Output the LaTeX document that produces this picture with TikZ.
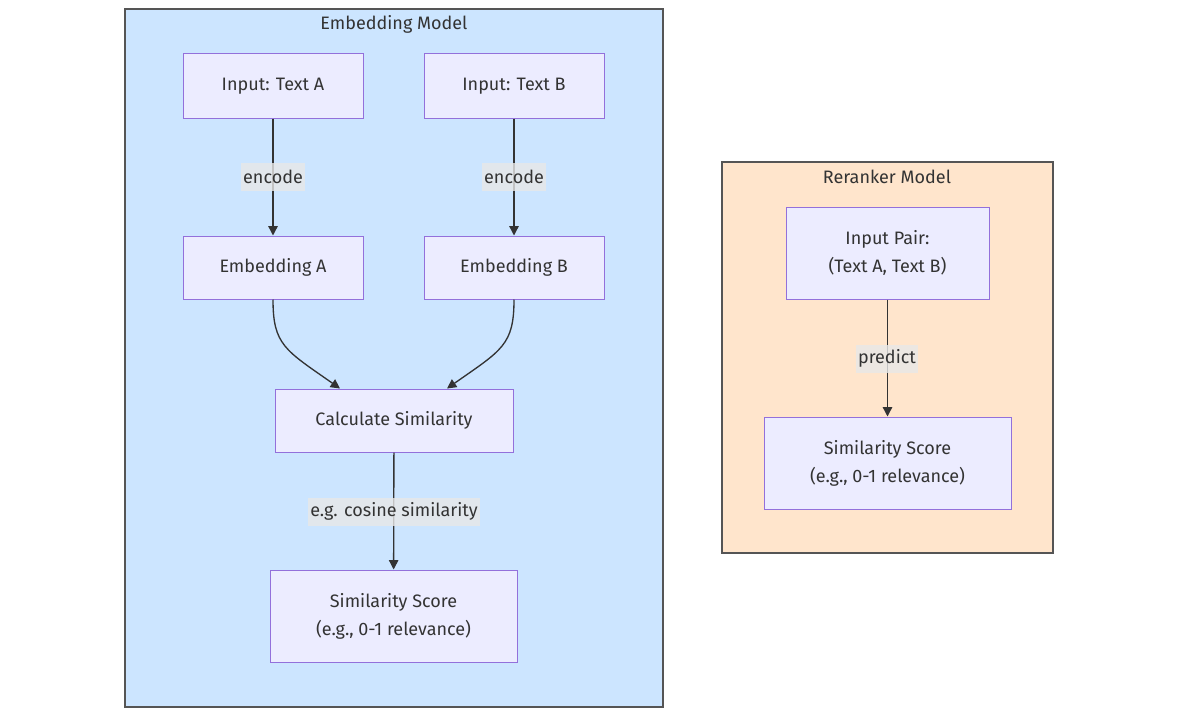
\documentclass[tikz,border=0pt]{standalone}
\usepackage{fontspec}
\setmainfont{Fira Sans}
\usetikzlibrary{calc,arrows.meta}
\definecolor{nodefill}{HTML}{ECECFF}
\definecolor{nodeborder}{HTML}{9370DB}
\definecolor{edgecol}{HTML}{333333}
\definecolor{txt}{HTML}{333333}
\definecolor{bluefill}{HTML}{CCE5FF}
\definecolor{peachfill}{HTML}{FFE5CC}
\definecolor{clusterborder}{HTML}{555555}
\definecolor{lblbg}{HTML}{E8E8E8}
\tikzset{
  box/.style={draw=nodeborder, fill=nodefill, line width=0.75pt, text=txt, align=center, inner sep=0pt, font=\fontsize{13.5}{21}\selectfont, execute at begin node={\vspace*{3pt}}},
  cluster/.style={draw=clusterborder, line width=1.5pt},
  ctitle/.style={text=txt, font=\fontsize{13.5}{16}\selectfont},
  lbl/.style={fill=lblbg, fill opacity=0.8, text opacity=1, text=txt, inner xsep=1.5pt, inner ysep=0pt, minimum height=21pt, font=\fontsize{13.5}{16}\selectfont},
  edge/.style={draw=edgecol, line width=1pt, -{Triangle[length=7pt,width=7pt]}},
}
\begin{document}
\begin{tikzpicture}[x=0.75pt,y=-0.75pt]
\useasboundingbox (0,0) rectangle (1178,717);
\fill[white] (0,0) rectangle (1178,717);
% clusters
\draw[cluster, fill=bluefill] (125,9) rectangle (663,707);
\node[ctitle] (t1) at (394,24) {Embedding Model};
\draw[cluster, fill=peachfill] (722,162) rectangle (1053,553);
\node[ctitle] (t2) at (887,177) {Reranker Model};
% nodes
\node[box, minimum width=135pt, minimum height=48pt] (ta) at (273,86) {Input: Text A};
\node[box, minimum width=135pt, minimum height=48pt] (tb) at (514,86) {Input: Text B};
\node[box, minimum width=135pt, minimum height=47.25pt] (ea) at (273,267.5) {Embedding A};
\node[box, minimum width=135pt, minimum height=47.25pt] (eb) at (514,267.5) {Embedding B};
\node[box, minimum width=178.5pt, minimum height=47.25pt] (calc) at (394,420.5) {Calculate Similarity};
\node[box, minimum width=185.25pt, minimum height=69pt] (ss) at (393.5,616) {Similarity Score\\(e.g., 0-1 relevance)};
\node[box, minimum width=152.25pt, minimum height=69pt] (ip) at (887.5,253) {Input Pair:\\(Text A, Text B)};
\node[box, minimum width=185.25pt, minimum height=69pt] (ss2) at (887.5,463) {Similarity Score\\(e.g., 0-1 relevance)};
% edges
\draw[edge] (ta) -- (ea);
\draw[edge] (tb) -- (eb);
\node[lbl] (l1) at (273,176.5) {encode};
\node[lbl] (l2) at (514,176.5) {encode};
\coordinate (ca) at ($(calc.north)+(-54*0.75pt,0)$);
\coordinate (cb) at ($(calc.north)+(53*0.75pt,0)$);
\draw[edge] (ea.south) .. controls (273,345) and (285,350) .. (ca);
\draw[edge] (eb.south) .. controls (514,345) and (502,350) .. (cb);
\draw[edge] (calc) -- (ss);
\node[lbl] (l3) at (394,511.5) {e.g. cosine similarity};
\draw[edge] (ip) -- (ss2);
\node[lbl] (l4) at (887,358.5) {predict};
\end{tikzpicture}
\end{document}
